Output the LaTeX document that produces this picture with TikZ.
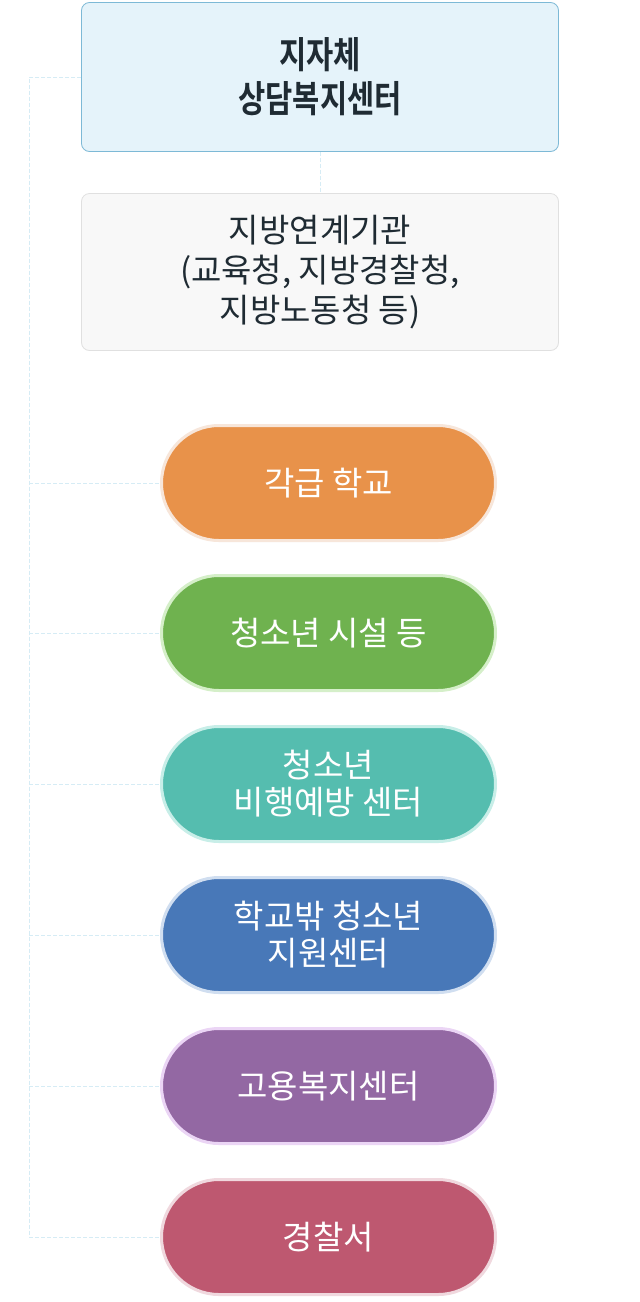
\documentclass[tikz,border=0pt]{standalone}
\usepackage{fontspec}
\setmainfont{Noto Sans CJK KR}[BoldFont={Noto Sans CJK KR Bold}]
\newfontfamily\topfont{Noto Sans CJK KR Bold}[FakeStretch=0.8]
\usetikzlibrary{positioning}
\definecolor{txtdark}{HTML}{1F2B33}
\definecolor{topfill}{HTML}{E5F3FA}
\definecolor{topline}{HTML}{7DB9D6}
\definecolor{grayfill}{HTML}{F8F8F8}
\definecolor{grayline}{HTML}{E0E0E0}
\definecolor{connc}{HTML}{D6ECF5}
\definecolor{orangef}{HTML}{E8924A}\definecolor{oranged}{HTML}{F7E6DA}
\definecolor{greenf}{HTML}{6FB24F}\definecolor{greend}{HTML}{D5EFC9}
\definecolor{tealf}{HTML}{55BDAF}\definecolor{teald}{HTML}{C8EEE8}
\definecolor{bluef}{HTML}{4878B8}\definecolor{blued}{HTML}{D0DEF0}
\definecolor{purplef}{HTML}{9368A3}\definecolor{purpled}{HTML}{EBD5F5}
\definecolor{redf}{HTML}{BE5870}\definecolor{redd}{HTML}{F0D8DE}
\tikzset{
  conn/.style={draw=connc, line width=1pt, dash pattern=on 4pt off 2pt},
  topbox/.style={draw=topline, fill=topfill, line width=0.8pt, rounded corners=8pt,
    minimum width=477pt, minimum height=149pt, align=center, text=txtdark,
    font=\fontsize{37}{44}\topfont, inner sep=0pt},
  graybox/.style={draw=grayline, fill=grayfill, line width=0.8pt, rounded corners=8pt,
    minimum width=477pt, minimum height=157pt, align=center, text=txtdark,
    font=\fontsize{33}{40}\selectfont, inner sep=0pt},
  pill/.style={line width=3pt, rounded corners=57.5pt, minimum width=334pt,
    minimum height=115pt, align=center, text=white,
    font=\fontsize{33}{37}\selectfont, inner sep=0pt},
}
\begin{document}
\begin{tikzpicture}[x=1pt,y=-1pt]
\fill[white] (0,0) rectangle (640,1302);
\useasboundingbox (0,0) rectangle (640,1302);
\node[topbox] (top) at (320,77) {지자체\\상담복지센터};
\node[graybox] (local) at (320,272) {지방연계기관\\(교육청, 지방경찰청,\\지방노동청 등)};
\node[pill, draw=oranged, fill=orangef] (p1) at (328.5,483) {각급 학교};
\node[pill, draw=greend, fill=greenf] (p2) at (328.5,633) {청소년 시설 등};
\node[pill, draw=teald, fill=tealf] (p3) at (328.5,784) {청소년\\비행예방 센터};
\node[pill, draw=blued, fill=bluef] (p4) at (328.5,935) {학교밖 청소년\\지원센터};
\node[pill, draw=purpled, fill=purplef] (p5) at (328.5,1086) {고용복지센터};
\node[pill, draw=redd, fill=redf] (p6) at (328.5,1237) {경찰서};
\coordinate (tl) at (29,77);
\coordinate (tb) at (29,1237);
\draw[conn] (top.south) -- (local.north);
\draw[conn] (top.west) -- (tl) -- (tb);
\foreach \p in {p1,p2,p3,p4,p5,p6} {
  \draw[conn] (tl |- \p.west) -- (\p.west);
}
\end{tikzpicture}
\end{document}
